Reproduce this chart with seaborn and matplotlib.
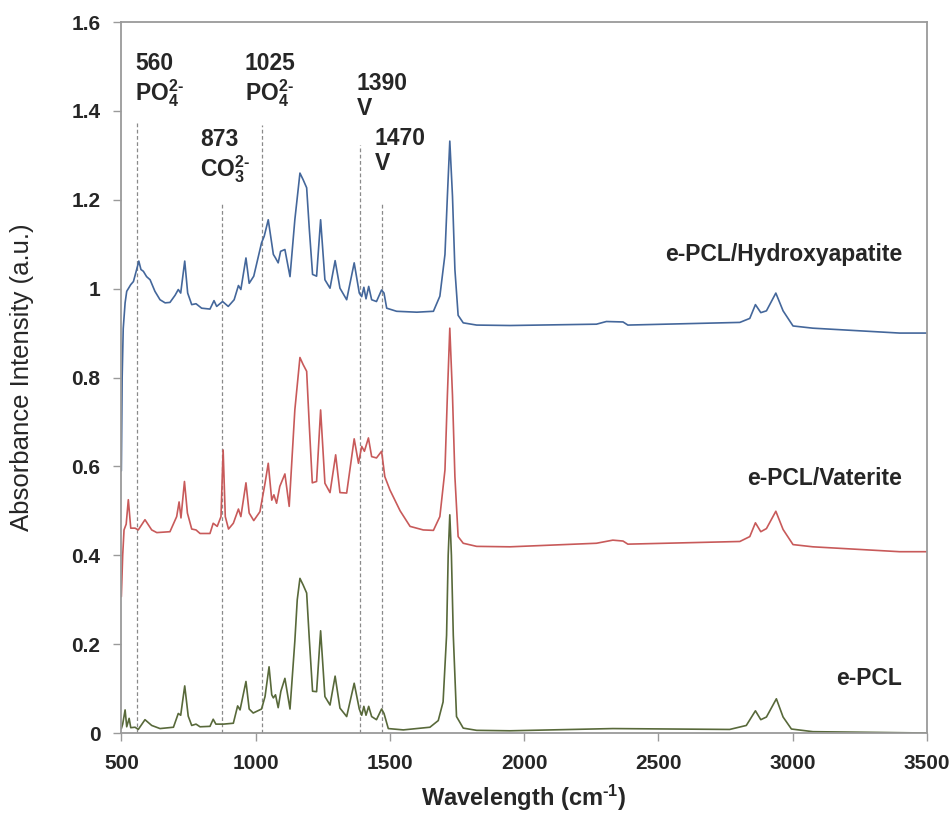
import matplotlib
matplotlib.use("Agg")
import matplotlib.pyplot as plt
import matplotlib.ticker as mticker
import pandas as pd
import seaborn as sns

# ── data (wavenumber cm-1, absorbance a.u.) ──
hap_wn = [500, 503, 507, 514, 520, 526, 535, 545, 557, 565, 573, 582, 594, 607,
          625, 644, 663, 681, 700, 712, 721, 736, 747, 762, 778, 799, 830, 845,
          855, 877, 898, 920, 936, 945, 964, 976, 993, 1022, 1032, 1047, 1056,
          1066, 1074, 1084, 1093, 1109, 1128, 1146, 1165, 1177, 1190, 1200, 1212,
          1227, 1242, 1258, 1277, 1296, 1314, 1339, 1367, 1386, 1395, 1403, 1411,
          1421, 1432, 1450, 1469, 1478, 1488, 1525, 1600, 1662, 1686, 1705, 1714,
          1723, 1733, 1742, 1754, 1773, 1823, 1947, 2269, 2306, 2368, 2386, 2803,
          2840, 2861, 2881, 2902, 2937, 2964, 3001, 3075, 3398, 3500]
hap_abs = [0.59, 0.80, 0.91, 0.968, 0.994, 1.0, 1.009, 1.016, 1.043, 1.062, 1.043,
           1.039, 1.027, 1.02, 0.994, 0.975, 0.968, 0.969, 0.985, 0.998, 0.99,
           1.062, 0.99, 0.964, 0.966, 0.956, 0.954, 0.973, 0.96, 0.971, 0.96,
           0.975, 1.007, 0.998, 1.069, 1.012, 1.028, 1.103, 1.118, 1.155, 1.118,
           1.077, 1.069, 1.058, 1.084, 1.088, 1.027, 1.155, 1.26, 1.245, 1.227,
           1.133, 1.032, 1.028, 1.155, 1.02, 1.001, 1.063, 1.001, 0.975, 1.058,
           0.99, 0.982, 1.003, 0.977, 1.005, 0.975, 0.971, 0.997, 0.99, 0.956,
           0.949, 0.947, 0.949, 0.983, 1.077, 1.208, 1.332, 1.208, 1.043, 0.94,
           0.923, 0.918, 0.917, 0.92, 0.926, 0.925, 0.918, 0.924, 0.933, 0.964,
           0.946, 0.95, 0.99, 0.95, 0.916, 0.911, 0.90, 0.90]

vat_wn = [500, 505, 510, 518, 526, 535, 551, 563, 588, 613, 632, 681, 706, 715,
          722, 735, 746, 762, 778, 793, 830, 842, 857, 871, 879, 887, 899, 917,
          936, 945, 964, 976, 993, 1016, 1035, 1047, 1060, 1068, 1078, 1090, 1109,
          1125, 1146, 1165, 1177, 1190, 1200, 1211, 1227, 1242, 1258, 1277, 1298,
          1314, 1339, 1367, 1383, 1395, 1405, 1420, 1432, 1450, 1469, 1481, 1500,
          1538, 1575, 1624, 1662, 1686, 1705, 1714, 1723, 1733, 1742, 1754, 1773,
          1823, 1947, 2269, 2330, 2368, 2386, 2803, 2840, 2861, 2881, 2902, 2937,
          2964, 3001, 3075, 3398, 3500]
vat_abs = [0.307, 0.40, 0.457, 0.47, 0.525, 0.461, 0.461, 0.457, 0.48, 0.457,
           0.451, 0.453, 0.487, 0.52, 0.484, 0.566, 0.495, 0.459, 0.457, 0.449,
           0.449, 0.472, 0.465, 0.487, 0.637, 0.487, 0.459, 0.472, 0.504, 0.487,
           0.563, 0.495, 0.478, 0.498, 0.562, 0.607, 0.524, 0.536, 0.517, 0.555,
           0.583, 0.51, 0.727, 0.845, 0.829, 0.814, 0.69, 0.563, 0.566, 0.727,
           0.562, 0.541, 0.626, 0.541, 0.54, 0.662, 0.607, 0.645, 0.634, 0.664,
           0.622, 0.619, 0.634, 0.577, 0.547, 0.5, 0.465, 0.457, 0.456, 0.487,
           0.592, 0.76, 0.911, 0.76, 0.577, 0.442, 0.427, 0.42, 0.419, 0.427,
           0.434, 0.432, 0.425, 0.431, 0.442, 0.473, 0.453, 0.46, 0.499, 0.458,
           0.424, 0.419, 0.408, 0.408]

pcl_wn = [500, 505, 514, 520, 529, 535, 551, 563, 588, 613, 644, 694, 712, 721,
          736, 749, 762, 778, 793, 830, 842, 852, 880, 917, 933, 942, 964, 976,
          991, 1022, 1035, 1050, 1060, 1066, 1074, 1084, 1094, 1109, 1128, 1146,
          1155, 1165, 1177, 1190, 1200, 1212, 1227, 1242, 1258, 1277, 1296, 1314,
          1339, 1367, 1386, 1395, 1403, 1411, 1421, 1432, 1450, 1469, 1478, 1494,
          1550, 1649, 1680, 1698, 1711, 1717, 1723, 1729, 1736, 1748, 1773, 1823,
          1947, 2330, 2765, 2827, 2861, 2881, 2902, 2939, 2964, 2995, 3075, 3500]
pcl_abs = [0.01, 0.02, 0.052, 0.014, 0.033, 0.012, 0.013, 0.008, 0.03, 0.017,
           0.01, 0.013, 0.044, 0.04, 0.106, 0.038, 0.017, 0.02, 0.014, 0.015,
           0.031, 0.02, 0.02, 0.022, 0.061, 0.052, 0.116, 0.054, 0.045, 0.054,
           0.082, 0.149, 0.086, 0.079, 0.086, 0.057, 0.094, 0.123, 0.054, 0.207,
           0.30, 0.348, 0.333, 0.315, 0.21, 0.094, 0.093, 0.23, 0.082, 0.063,
           0.128, 0.056, 0.037, 0.112, 0.054, 0.04, 0.06, 0.04, 0.06, 0.037,
           0.03, 0.054, 0.044, 0.01, 0.007, 0.013, 0.028, 0.07, 0.22, 0.40,
           0.491, 0.40, 0.22, 0.037, 0.011, 0.006, 0.005, 0.01, 0.008, 0.017,
           0.05, 0.03, 0.036, 0.077, 0.036, 0.009, 0.003, 0.0]

series_names = ["e-PCL/Hydroxyapatite", "e-PCL/Vaterite", "e-PCL"]
series_colors = ["#44679b", "#c85a5a", "#58693a"]

# marked absorption bands
band_pos = [560, 873, 1025, 1390, 1470]
band_top = [1.374, 1.196, 1.369, 1.324, 1.196]
band_text = [r"560" "\n" r"PO$_4^{2\text{-}}$",
             r"873" "\n" r"CO$_3^{2\text{-}}$",
             r"1025" "\n" r"PO$_4^{2\text{-}}$",
             "1390\nV", "1470\nV"]

# ── layout of the text bits (data coords) ──
band_text_xy = [(551, 1.533), (793, 1.361), (960, 1.533), (1376, 1.487), (1444, 1.363)]
series_label_xy = [(3408, 1.077), (3408, 0.572), (3408, 0.122)]

sns.set_theme(style="white")
plt.rcParams["font.family"] = ["Liberation Sans", "DejaVu Sans"]
plt.rcParams["mathtext.fontset"] = "custom"
plt.rcParams["mathtext.rm"] = "Liberation Sans:bold"
plt.rcParams["mathtext.bf"] = "Liberation Sans:bold"
plt.rcParams["mathtext.default"] = "bf"

df = pd.concat([
    pd.DataFrame({"wn": wn, "abs": ab, "sample": name})
    for name, wn, ab in zip(series_names,
                            [hap_wn, vat_wn, pcl_wn],
                            [hap_abs, vat_abs, pcl_abs])
], ignore_index=True)

fig = plt.figure(figsize=(9.51, 8.18), dpi=100)
ax = fig.add_axes([0.1276, 0.1039, 0.8472, 0.8692])

ax.vlines(band_pos, 0, band_top, colors="#8a8a8a",
          linestyles=(0, (3, 2)), linewidth=0.9, zorder=1)

sns.lineplot(data=df, x="wn", y="abs", hue="sample",
             palette=dict(zip(series_names, series_colors)),
             estimator=None, sort=False, linewidth=1.2, legend=False,
             ax=ax, zorder=2)
for ln in ax.lines:
    ln.set_solid_joinstyle("round")

for txt, (x, y) in zip(band_text, band_text_xy):
    ax.text(x, y, txt, ha="left", va="top", fontsize=16.5,
            fontweight="bold", linespacing=1.1)

for name, (x, y) in zip(series_names, series_label_xy):
    ax.text(x, y, name, ha="right", va="center", fontsize=16.5,
            fontweight="bold")

ax.set_xlim(500, 3500)
ax.set_ylim(0, 1.6)
ax.xaxis.set_major_locator(mticker.MultipleLocator(500))
ax.yaxis.set_major_locator(mticker.MultipleLocator(0.2))
ax.yaxis.set_major_formatter(mticker.FuncFormatter(lambda v, _: f"{v:g}"))

for sp in ax.spines.values():
    sp.set_color("#9a9a9a")
    sp.set_linewidth(1.3)

ax.tick_params(axis="both", which="major", direction="out", length=6,
               width=1.0, color="#9a9a9a", labelsize=15, pad=9,
               bottom=True, left=True, top=False, right=False)
for lab in ax.get_xticklabels() + ax.get_yticklabels():
    lab.set_fontweight("bold")

ax.set_xlabel(r"Wavelength (cm$^{\text{-}1}$)", fontsize=17, fontweight="bold")
ax.set_ylabel("Absorbance Intensity (a.u.)", fontsize=18.5)
ax.xaxis.set_label_coords(0.5, -0.07)
ax.yaxis.set_label_coords(-0.109, 0.5)

fig.savefig("out.png", dpi=100)
